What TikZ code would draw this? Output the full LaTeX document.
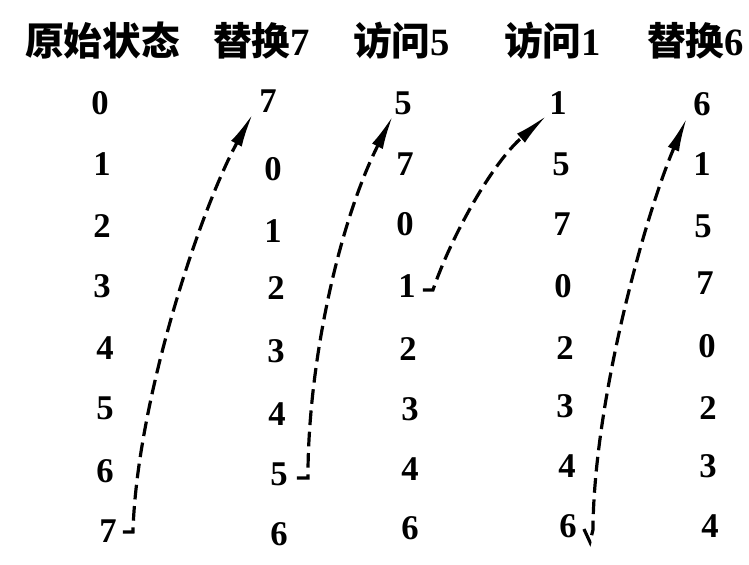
\documentclass[tikz,border=0pt]{standalone}
\usepackage{fontspec}
\setmainfont{Liberation Serif}
\newfontfamily\cjk{Noto Sans CJK SC}
\usetikzlibrary{arrows.meta,calc}

\begin{document}
\begin{tikzpicture}[x=0.75pt,y=-0.75pt,
  num/.style={font=\fontsize{26}{26}\selectfont\bfseries, inner sep=0pt, text height=18pt, text depth=0pt},
  head/.style={font=\fontsize{29}{29}\selectfont\bfseries\cjk, inner sep=0pt, anchor=west},
  move/.style={dash pattern=on 11pt off 5pt, line width=2.4pt, -{Latex[length=26pt,width=9pt]}}]
\useasboundingbox (0,0) rectangle (749,564);
\node[head] (t1) at (25,41) {原始状态};
\node[head] (t2) at (213,41) {替换{\rmfamily 7}};
\node[head] (t3) at (353,41) {访问{\rmfamily 5}};
\node[head] (t4) at (504,41) {访问{\rmfamily 1}};
\node[head] (t5) at (647,41) {替换{\rmfamily 6}};
\foreach \d/\x/\y [count=\i] in {0/100/102,1/102/163,2/102/225,3/102/285,4/105/347,5/105/407,6/105/470,7/108/530}
  \node[num] (a\i) at (\x,\y) {\d};
\foreach \d/\x/\y [count=\i] in {7/268/100,0/273/168,1/273/230,2/276/287,3/276/350,4/277/413,5/279/473,6/279/533}
  \node[num] (b\i) at (\x,\y) {\d};
\foreach \d/\x/\y [count=\i] in {5/403/102,7/405/163,0/405/223,1/407/285,2/408/348,3/410/408,4/410/468,6/410/527}
  \node[num] (c\i) at (\x,\y) {\d};
\foreach \d/\x/\y [count=\i] in {1/558/102,5/561/163,7/562/223,0/563/285,2/565/347,3/565/405,4/567/465,6/568/525}
  \node[num] (d\i) at (\x,\y) {\d};
\foreach \d/\x/\y [count=\i] in {6/702/103,1/702/163,5/703/225,7/705/282,0/707/345,2/708/407,3/708/465,4/710/525}
  \node[num] (e\i) at (\x,\y) {\d};
\draw[move] ($(a8.east)+(6,2)$) -- ++(10,0) .. controls +(4,-132) and +(-53,97) .. ($(b1.south west)+(-6,1)$);
\draw[move] ($(b7.east)+(9,5)$) -- ++(11,0) .. controls +(0,-118) and +(-53,105) .. ($(c1.south west)+(-1,1)$);
\draw[move] ($(c4.east)+(7,5)$) -- ++(10,0) .. controls +(17,-50) and +(-57,50) .. ($(d1.south west)+(-2,1)$);
\draw[move] ($(d8.east)+(7,4)$) -- ++(6,13) -- ++(3,-12) .. controls +(1,-130) and +(-42,98) .. ($(e1.south west)+(-6,2)$);
\end{tikzpicture}
\end{document}
